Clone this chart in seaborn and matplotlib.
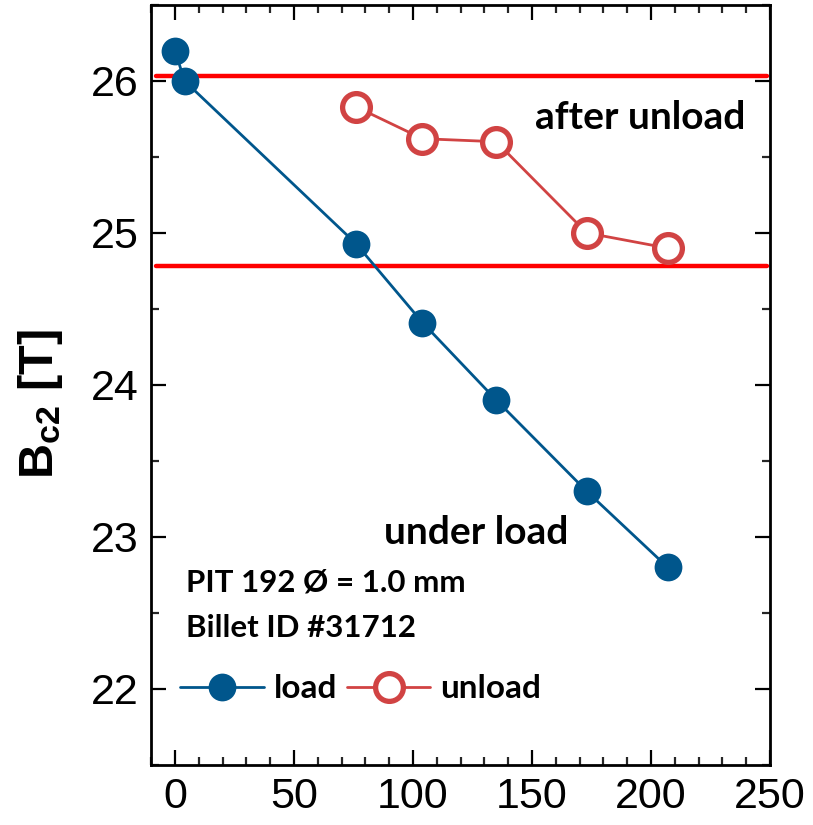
import numpy as np
import pandas as pd
import matplotlib
matplotlib.use("Agg")
import matplotlib.pyplot as plt
from matplotlib.ticker import MultipleLocator
import seaborn as sns

# ---- data ----
load_strain = [0, 4, 76, 104, 135, 173, 207]
load_bc2 = [26.20, 26.00, 24.93, 24.41, 23.90, 23.30, 22.80]
unload_strain = [76, 104, 135, 173, 207]
unload_bc2 = [25.83, 25.62, 25.60, 25.00, 24.90]
ref_lines = [26.035, 24.78]
x_ticks = [0, 50, 100, 150, 200, 250]
y_ticks = [22, 23, 24, 25, 26]

sns.set_theme(style="ticks")
plt.rcParams['font.family'] = ['Liberation Sans', 'DejaVu Sans']
plt.rcParams['mathtext.fontset'] = 'custom'
plt.rcParams['mathtext.rm'] = 'Liberation Sans:bold'
plt.rcParams['mathtext.bf'] = 'Liberation Sans:bold'
plt.rcParams['mathtext.it'] = 'Liberation Sans:bold'
plt.rcParams['text.color'] = 'black'
plt.rcParams['axes.labelcolor'] = 'black'

fig = plt.figure(figsize=(8.13, 8.25), dpi=100)
ax = fig.add_axes([0.186, 0.073, 0.761, 0.921])

blue = "#00568C"
red = "#D14343"

df_load = pd.DataFrame({"x": load_strain, "y": load_bc2})
df_unload = pd.DataFrame({"x": unload_strain, "y": unload_bc2})

for yv in ref_lines:
    ax.axhline(yv, xmin=0.008, xmax=0.995, color="#FF0000", lw=3.2, zorder=1)

sns.lineplot(data=df_load, x="x", y="y", ax=ax, sort=False, color=blue, lw=2.0,
             marker="o", markersize=20, markeredgewidth=0, markerfacecolor=blue,
             label="load", zorder=3)
sns.lineplot(data=df_unload, x="x", y="y", ax=ax, sort=False, color=red, lw=2.0,
             marker="o", markersize=20, markeredgewidth=3.8, markeredgecolor=red,
             markerfacecolor="white", label="unload", zorder=3)

ax.set_xlim(-10, 250)
ax.set_ylim(21.5, 26.5)
ax.set_xticks(x_ticks)
ax.set_yticks(y_ticks)
ax.xaxis.set_minor_locator(MultipleLocator(10))
ax.yaxis.set_minor_locator(MultipleLocator(0.5))
ax.tick_params(axis='both', which='major', direction='in', length=11, width=1.6,
               labelsize=31, top=True, right=True, pad=9, colors='black')
ax.tick_params(axis='both', which='minor', direction='in', length=6, width=1.6,
               top=True, right=True)
for s in ax.spines.values():
    s.set_linewidth(2)
    s.set_color('black')

ax.set_xlabel("")
ax.set_ylabel(r"B$_{\mathregular{c2}}$ [T]", fontsize=35, fontweight='bold', color='black')
ax.yaxis.set_label_coords(-0.14, 0.475)

tfont = ['Lato', 'DejaVu Sans']
ax.text(239.5, 25.76, "after unload", fontsize=28, fontweight='bold', family=tfont,
        ha='right', va='center', color='black')
ax.text(126.7, 23.03, "under load", fontsize=28, fontweight='bold', family=tfont,
        ha='center', va='center', color='black')
ax.text(4.6, 22.70, "PIT 192 Ø = 1.0 mm", fontsize=22.5, fontweight='bold', family=tfont,
        ha='left', va='center', color='black')
ax.text(4.6, 22.40, "Billet ID #31712", fontsize=22.5, fontweight='bold', family=tfont,
        ha='left', va='center', color='black')

leg = ax.legend(loc='center left', bbox_to_anchor=(0.047, 0.1), ncol=2, frameon=False,
                prop={'family': 'Lato', 'weight': 'bold', 'size': 24},
                handlelength=2.5, handletextpad=0.3, columnspacing=0.3, borderaxespad=0.0,
                borderpad=0.0)
for t in leg.get_texts():
    t.set_color('black')

fig.savefig("out.png", dpi=100)
